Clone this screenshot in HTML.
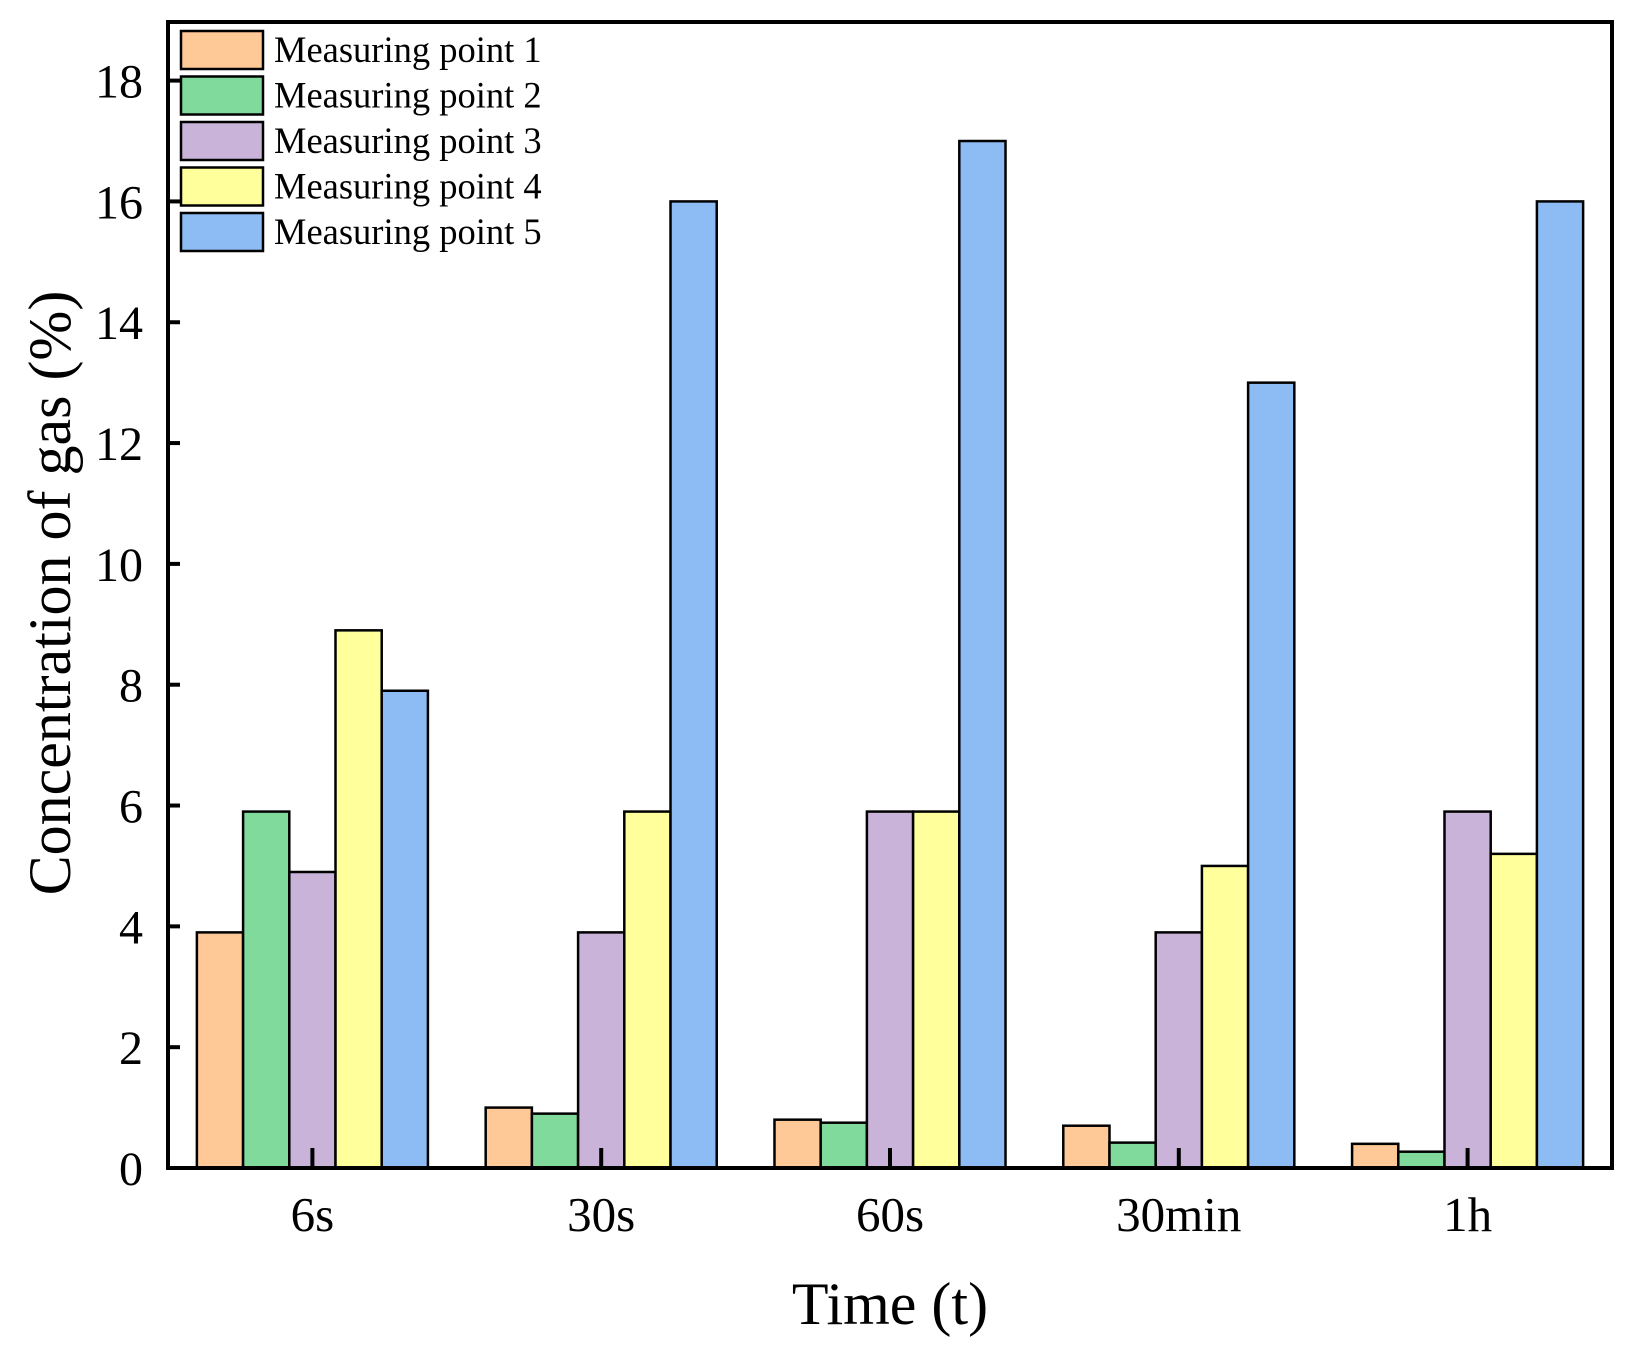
<!DOCTYPE html>
<html><head><meta charset="utf-8"><style>
html,body{margin:0;padding:0;background:#fff;}
svg{display:block;font-family:"Liberation Serif","Times New Roman",serif;}
</style></head><body>
<svg id="chart" width="1633" height="1355" viewBox="0 0 1633 1355" xmlns="http://www.w3.org/2000/svg">
<g id="bars"></g>
<g id="axes"></g>
<g id="legend"></g>
<text x="890" y="1324" font-size="60" text-anchor="middle">Time (t)</text>
<text transform="translate(70,593) rotate(-90)" font-size="60" text-anchor="middle">Concentration of gas (%)</text>
</svg>
<script>
const categories = ["6s","30s","60s","30min","1h"];
const seriesNames = ["Measuring point 1","Measuring point 2","Measuring point 3","Measuring point 4","Measuring point 5"];
const point1 = [3.9, 1.0, 0.8, 0.7, 0.4];
const point2 = [5.9, 0.9, 0.75, 0.42, 0.27];
const point3 = [4.9, 3.9, 5.9, 3.9, 5.9];
const point4 = [8.9, 5.9, 5.9, 5.0, 5.2];
const point5 = [7.9, 16, 17, 13, 16];
const yTicks = [0,2,4,6,8,10,12,14,16,18];
const colors = ["#ffc897","#80da9b","#c9b3d9","#ffff9c","#8dbcf4"];

const NS="http://www.w3.org/2000/svg";
const L=168,R=1612,T=22,B=1168,yMax=18.97;
const series=[point1,point2,point3,point4,point5];
const gw=(R-L)/categories.length, bw=gw*0.8/series.length;
function y(v){return B-v*(B-T)/yMax;}
function xc(i){return L+(i+0.5)*gw;}
function mk(tag,attrs,parent){const e=document.createElementNS(NS,tag);for(const k in attrs)e.setAttribute(k,attrs[k]);parent.appendChild(e);return e;}
const bars=document.getElementById('bars'),axes=document.getElementById('axes'),leg=document.getElementById('legend');
series.forEach((s,si)=>{s.forEach((v,ci)=>{
  const x0=xc(ci)-2.5*bw+si*bw;
  const r=mk('rect',{x:x0,y:y(v),width:bw,height:B-y(v),fill:colors[si],stroke:'#000','stroke-width':2.5},bars);
  
  
});});
const frame=mk('rect',{x:L,y:T,width:R-L,height:B-T,fill:'none',stroke:'#000','stroke-width':4},axes);


yTicks.forEach(t=>{
  const ln=mk('line',{x1:L,x2:L+12,y1:y(t),y2:y(t),stroke:'#000','stroke-width':4},axes);
  
  
  const tx=mk('text',{x:143,y:y(t)+17,'font-size':48,'text-anchor':'end'},axes);
  tx.textContent=t;
  
  
});
categories.forEach((c,i)=>{
  const ln=mk('line',{x1:xc(i),x2:xc(i),y1:B,y2:B-20,stroke:'#000','stroke-width':4},axes);
  
  
  const tx=mk('text',{x:xc(i),y:1231,'font-size':49,'text-anchor':'middle'},axes);
  tx.textContent=c;
  
  
});
seriesNames.forEach((n,i)=>{
  const yy=31+i*45.5;
  const r=mk('rect',{x:181,y:yy,width:82,height:38,fill:colors[i],stroke:'#000','stroke-width':2.5},leg);
  
  
  const tx=mk('text',{x:274,y:yy+31,'font-size':36.5},leg);
  tx.textContent=n;
  
  
});
</script>
</body></html>
